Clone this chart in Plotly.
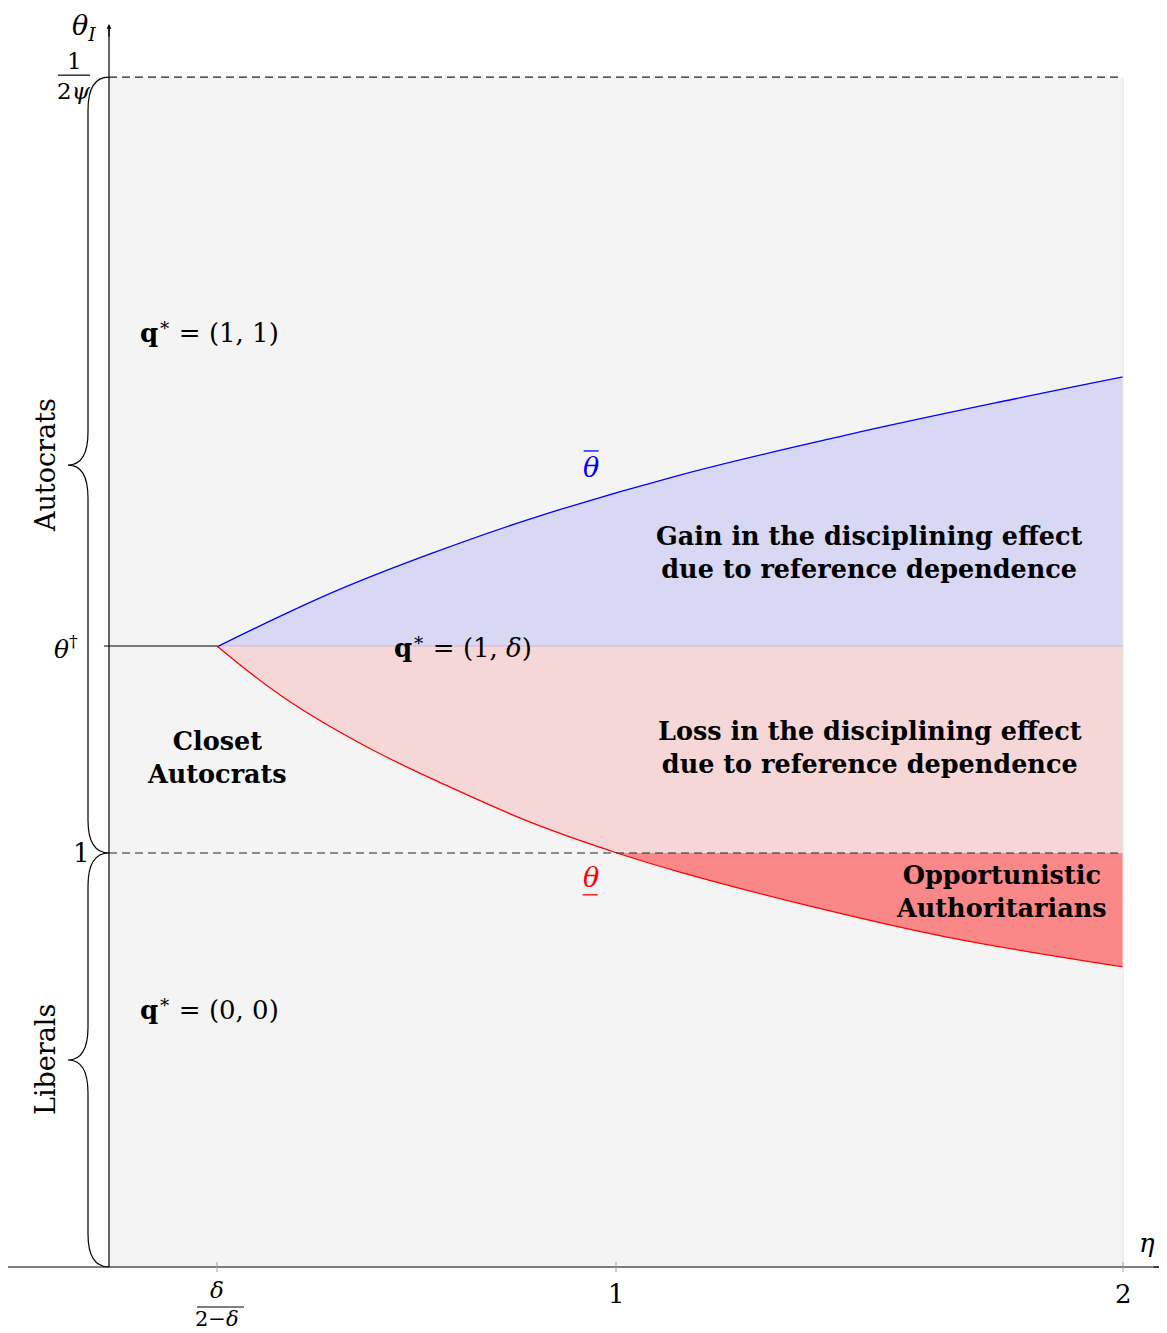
import plotly.graph_objects as go

# ---------------- data ----------------
x_upper = [0.213, 0.442, 0.639, 0.836, 1.126, 1.456, 1.783, 2.0]
y_upper = [1.498, 1.630, 1.725, 1.809, 1.913, 2.010, 2.096, 2.150]
x_lower = [0.213, 0.343, 0.509, 0.673, 0.836, 1.002, 1.126, 1.389, 1.653, 2.0]
y_lower = [1.5, 1.377, 1.256, 1.159, 1.072, 1.0, 0.954, 0.870, 0.797, 0.725]
eta_threshold = 0.213      # delta/(2-delta)
theta_dagger = 1.5
theta_one = 1.0
theta_top = 2.874          # 1/(2 psi)
eta_max = 2.0
x_tick_vals = [eta_threshold, 1.0, 2.0]

# ---------------- layout constants ----------------
PAGE = 8                   # default body margin of the html page
W, H = 1167 - PAGE, 1333 - PAGE
SX, SY = 507.0, 414.0      # pixels per unit
OX, OY = 109.0 - PAGE, 1267.0 - PAGE   # pixel position of origin inside the figure
x_range = [-OX / SX, (W - OX) / SX]
y_range = [(OY - H) / SY, OY / SY]

SERIF = "DejaVu Serif"
GRAY_BG = "#f4f4f4"
BLUE_FILL = "#d8d7f4"
RED_FILL = "#f5d7d8"
DARK_RED = "#fa8888"
SMOOTH = 1.1

fig = go.Figure()


def add_line(x, y, **kw):
    fig.add_trace(go.Scatter(x=x, y=y, mode="lines", hoverinfo="skip", showlegend=False, **kw))


# blue region (gain)
add_line(x_upper, [theta_dagger] * len(x_upper), line=dict(width=0))
add_line(x_upper, y_upper, fill="tonexty", fillcolor=BLUE_FILL,
         line=dict(width=0, shape="spline", smoothing=SMOOTH))
# light red region (loss)
add_line(x_lower, [theta_dagger] * len(x_lower), line=dict(width=0))
add_line(x_lower, y_lower, fill="tonexty", fillcolor=RED_FILL,
         line=dict(width=0, shape="spline", smoothing=SMOOTH))
# dark red region (opportunistic authoritarians)
idx = [i for i, v in enumerate(y_lower) if v <= theta_one + 1e-9]
xd = [x_lower[i] for i in idx]
yd = [y_lower[i] for i in idx]
add_line(xd, [theta_one] * len(xd), line=dict(width=0))
add_line(xd, yd, fill="tonexty", fillcolor=DARK_RED,
         line=dict(width=0, shape="spline", smoothing=SMOOTH))
# boundary between blue and red
add_line([eta_threshold, eta_max], [theta_dagger, theta_dagger], line=dict(width=1, color="#dcb4d2"))
# curves
add_line(x_upper, y_upper, line=dict(width=1.3, color="#0000ff", shape="spline", smoothing=SMOOTH))
add_line(x_lower, y_lower, line=dict(width=1.3, color="#ff0000", shape="spline", smoothing=SMOOTH))
# theta dagger segment
add_line([-0.01, eta_threshold], [theta_dagger, theta_dagger], line=dict(width=1.2, color="black"))

shapes = []
# gray background region
shapes.append(dict(type="rect", x0=0, x1=eta_max, y0=0, y1=theta_top, layer="below",
                   fillcolor=GRAY_BG, line=dict(width=0)))
shapes.append(dict(type="line", x0=eta_max, x1=eta_max, y0=0, y1=theta_top, layer="above",
                   line=dict(color="#e4e4e4", width=1)))
# dashed lines
for yv in [theta_one, theta_top]:
    shapes.append(dict(type="line", x0=0, x1=eta_max, y0=yv, y1=yv,
                       line=dict(color="#222222", width=1.1, dash="8px,5px")))
# axes
shapes.append(dict(type="line", x0=x_range[0], x1=x_range[1], y0=0, y1=0,
                   line=dict(color="black", width=1.2)))
shapes.append(dict(type="line", x0=0, x1=0, y0=0, y1=(OY - 28 + PAGE) / SY,
                   line=dict(color="black", width=1.2)))
# x ticks
for xv in x_tick_vals:
    shapes.append(dict(type="line", xref="x", yref="y", x0=xv, x1=xv,
                       ysizemode="pixel", yanchor=0, y0=-5, y1=5,
                       line=dict(color="#a0a0a0", width=1)))


# curly braces (x in pixels relative to the y-axis)
def brace(y_lo, y_hi):
    d = 33 / SY
    ym = (y_lo + y_hi) / 2
    p = (f"M 0,{y_hi} Q -21,{y_hi} -21,{y_hi - d} L -21,{ym + d} "
         f"Q -21,{ym} -41,{ym} Q -21,{ym} -21,{ym - d} L -21,{y_lo + d} "
         f"Q -21,{y_lo} 0,{y_lo}")
    return dict(type="path", path=p, xsizemode="pixel", xanchor=0,
                line=dict(color="black", width=1.2))


shapes.append(brace(theta_one, theta_top))
shapes.append(brace(0, theta_one))

# fraction bars
shapes.append(dict(type="line", xsizemode="pixel", xanchor=0, x0=-51, x1=-19,
                   ysizemode="pixel", yanchor=theta_top, y0=2, y1=2,
                   line=dict(color="black", width=1.2)))
shapes.append(dict(type="line", xsizemode="pixel", xanchor=eta_threshold, x0=-20, x1=27,
                   ysizemode="pixel", yanchor=0, y0=-40, y1=-40,
                   line=dict(color="black", width=1.2)))

annotations = []


def ann(x, y, text, size=24, color="black", xanchor="center", yanchor="middle",
        xshift=0, yshift=0, angle=0):
    annotations.append(dict(x=x, y=y, xref="x", yref="y", text=text, showarrow=False,
                            font=dict(family=SERIF, size=size, color=color),
                            xanchor=xanchor, yanchor=yanchor, xshift=xshift, yshift=yshift,
                            textangle=angle))


# axis arrows
annotations.append(dict(x=0, y=(OY - 24 + PAGE) / SY, xref="x", yref="y", ax=0, ay=14, text="",
                        showarrow=True, arrowhead=2, arrowsize=0.8, arrowwidth=1.2,
                        arrowcolor="black"))
annotations.append(dict(x=x_range[1] - 1 / SX, y=0, xref="x", yref="y", ax=-14, ay=0, text="",
                        showarrow=True, arrowhead=2, arrowsize=0.8, arrowwidth=1.2,
                        arrowcolor="black"))

# axis titles
ann(0, y_range[1], "<i>θ<sub>I</sub></i>", size=27, xshift=-25, yanchor="top", yshift=0)
ann(x_range[1], 0, "<i>η</i>", size=26, xshift=-20, yshift=24)

# y tick labels
ann(0, theta_top, "1", size=23, xshift=-35, yshift=16)
ann(0, theta_top, "2<i>ψ</i>", size=23, xshift=-35, yshift=-14)
ann(0, theta_dagger, "<i>θ</i><sup>†</sup>", size=25, xanchor="right", xshift=-29, yshift=-1)
ann(0, theta_one, "1", size=26, xanchor="right", xshift=-17)

# x tick labels
ann(eta_threshold, 0, "<i>δ</i>", size=23, yshift=-23)
ann(eta_threshold, 0, "2−<i>δ</i>", size=21, yshift=-52)
ann(1.0, 0, "1", size=26, yshift=-27)
ann(2.0, 0, "2", size=26, yshift=-27)

# brace labels
ann(0, (theta_one + theta_top) / 2, "Autocrats", size=27, xshift=-64, angle=-90)
ann(0, theta_one / 2, "Liberals", size=27, xshift=-64, angle=-90)

# region labels
ann(eta_threshold, 2.26, "<b>q</b><sup>∗</sup> = (1, 1)", size=26, xshift=-7)
ann(0.698, theta_dagger, "<b>q</b><sup>∗</sup> = (1, <i>δ</i>)", size=26)
ann(eta_threshold, 0.625, "<b>q</b><sup>∗</sup> = (0, 0)", size=26, xshift=-7)
ann(eta_threshold, 1.231, "<b>Closet<br>Autocrats</b>", size=25.5)
ann(1.5, 1.727, "<b>Gain in the disciplining effect<br>due to reference dependence</b>", size=25.5)
ann(1.5, 1.254, "<b>Loss in the disciplining effect<br>due to reference dependence</b>", size=25.5)
ann(1.76, 0.907, "<b>Opportunistic<br>Authoritarians</b>", size=25.5)

# curve labels with over / under bars
ann(0.95, 1.93, "<i>θ</i>", size=27, color="#0000ff")
shapes.append(dict(type="line", xsizemode="pixel", xanchor=0.95, x0=-7, x1=8,
                   ysizemode="pixel", yanchor=1.93, y0=17, y1=17,
                   line=dict(color="#0000ff", width=1.3)))
ann(0.95, 0.94, "<i>θ</i>", size=27, color="#ff0000")
shapes.append(dict(type="line", xsizemode="pixel", xanchor=0.95, x0=-8, x1=7,
                   ysizemode="pixel", yanchor=0.94, y0=-17, y1=-17,
                   line=dict(color="#ff0000", width=1.3)))

fig.update_layout(
    width=W, height=H,
    margin=dict(l=0, r=0, t=0, b=0),
    paper_bgcolor="white", plot_bgcolor="white",
    xaxis=dict(range=x_range, visible=False, fixedrange=True),
    yaxis=dict(range=y_range, visible=False, fixedrange=True),
    shapes=shapes, annotations=annotations, showlegend=False,
)

fig.write_html("out.html")
